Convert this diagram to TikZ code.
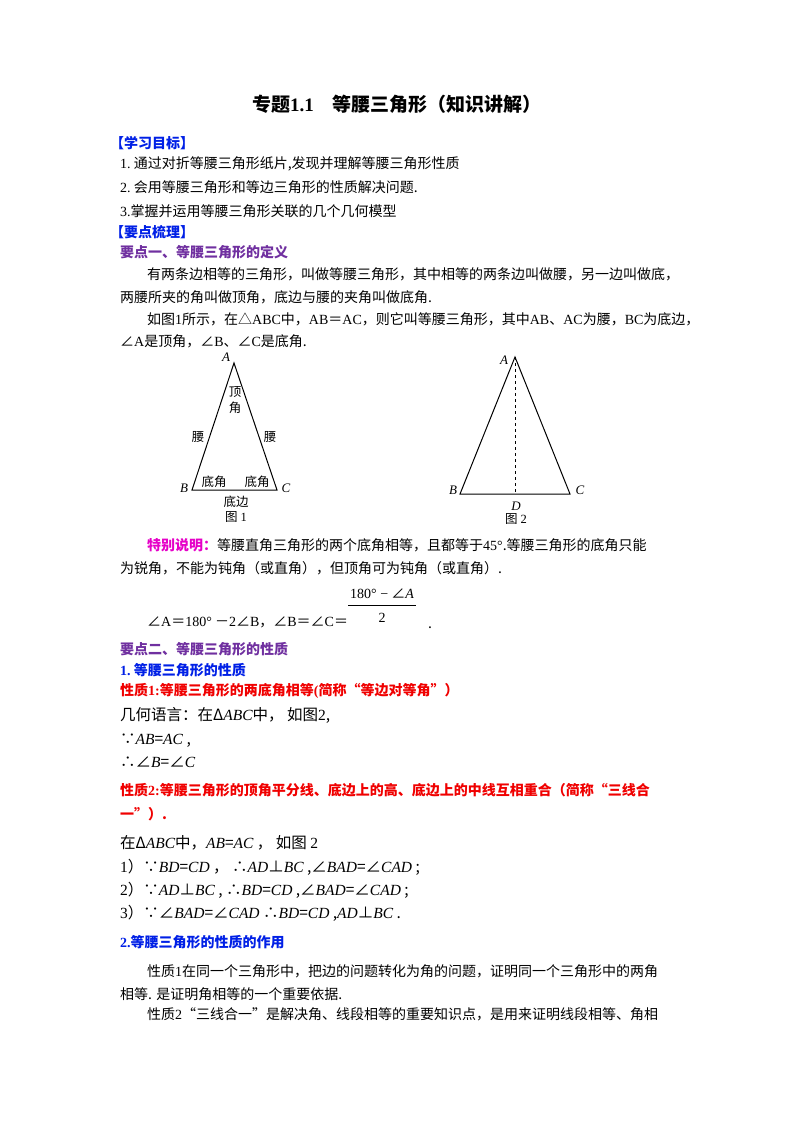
\documentclass[tikz,border=0pt]{standalone}
\usepackage{fontspec}
\setmainfont{Noto Sans CJK SC}
\newfontfamily\lat{Liberation Serif}
\definecolor{kblue}{RGB}{0,32,230}
\definecolor{kpurp}{RGB}{112,48,160}
\definecolor{kred}{RGB}{240,0,0}
\definecolor{kmag}{RGB}{230,0,200}
\tikzset{t/.style={anchor=base west,inner sep=0pt,font=\fontsize{14}{16}\selectfont},
 h/.style={t,font=\fontsize{14}{16}\selectfont\bfseries},
 big/.style={anchor=base west,inner sep=0pt,font=\fontsize{15.5}{18}\selectfont},
 lab/.style={inner sep=0pt,font=\fontsize{12.5}{14}\selectfont},
 ll/.style={inner sep=0pt,font=\fontsize{13}{14}\lat\itshape}}
\begin{document}
\begin{tikzpicture}[x=1pt,y=-1pt]
\useasboundingbox[fill=white] (0,0) rectangle (800,1132);
\node[anchor=base,inner sep=0pt,font=\fontsize{19}{20}\selectfont\bfseries] (title) at (397,111) {专题{\lat 1.1}\quad 等腰三角形（知识讲解）};
\node[h,text=kblue] (g1) at (110,148) {【学习目标】};
\node[t] (l1) at (120,168) {{\lat 1.}\ 通过对折等腰三角形纸片,发现并理解等腰三角形性质};
\node[t] (l2) at (120,192) {{\lat 2.}\ 会用等腰三角形和等边三角形的性质解决问题.};
\node[t] (l3) at (120,216) {{\lat 3.}掌握并运用等腰三角形关联的几个几何模型};
\node[h,text=kblue] (g2) at (110,237) {【要点梳理】};
\node[h,text=kpurp] (k1) at (120,257) {要点一、等腰三角形的定义};
\node[t] (p1) at (147,279) {有两条边相等的三角形，叫做等腰三角形，其中相等的两条边叫做腰，另一边叫做底，};
\node[t] (p2) at (120,302) {两腰所夹的角叫做顶角，底边与腰的夹角叫做底角.};
\node[t] (p3) at (147,324) {如图{\lat 1}所示，在△{\lat ABC}中，{\lat AB}＝{\lat AC}，则它叫等腰三角形，其中{\lat AB}、{\lat AC}为腰，{\lat BC}为底边，};
\node[t] (p4) at (120,346) {∠{\lat A}是顶角，∠{\lat B}、∠{\lat C}是底角.};
% figure 1
\coordinate (A1) at (234,363); \coordinate (B1) at (192,490); \coordinate (C1) at (277,490);
\draw[line width=1pt] (A1) -- (B1) -- (C1) -- cycle;
\node[ll] (a1) at (226,357) {A};
\node[ll] (b1) at (184,488) {B};
\node[ll] (c1) at (286,488) {C};
\node[lab] (dj1) at (235,392) {顶};
\node[lab] (dj2) at (235,408) {角};
\node[lab] (y1) at (198,437) {腰};
\node[lab] (y2) at (270,437) {腰};
\node[lab] (dj3) at (214,482) {底角};
\node[lab] (dj4) at (257,482) {底角};
\node[lab] (db) at (236,502) {底边};
\node[lab] (f1) at (236,517) {图 {\lat 1}};
% figure 2
\coordinate (A2) at (515,357); \coordinate (B2) at (460,494); \coordinate (C2) at (570,494); \coordinate (D2) at (515,494);
\draw[line width=1pt] (A2) -- (B2) -- (C2) -- cycle;
\draw[dashed,line width=0.9pt] (A2) -- (D2);
\node[ll] (a2) at (504,360) {A};
\node[ll] (b2) at (453,490) {B};
\node[ll] (c2) at (580,490) {C};
\node[ll] (d2) at (516,506) {D};
\node[lab] (f2) at (516,519) {图 {\lat 2}};
\node[t] (s1) at (147,550) {\textcolor{kmag}{\bfseries 特别说明：}等腰直角三角形的两个底角相等，且都等于{\lat 45°}.等腰三角形的底角只能};
\node[t] (s2) at (120,573) {为锐角，不能为钝角（或直角），但顶角可为钝角（或直角）.};
\node[t] (e1) at (147,626) {∠{\lat A}＝{\lat 180°}\ －{\lat 2}∠{\lat B}，∠{\lat B}＝∠{\lat C}＝};
\node[anchor=base,inner sep=0pt,font=\fontsize{14}{16}\selectfont] (num) at (382,598) {{\lat 180° −} ∠{\lat\itshape A}};
\node[anchor=base,inner sep=0pt,font=\fontsize{14}{16}\lat] (den) at (382,622) {2};
\draw[line width=0.6pt] (348,605) -- (416,605);
\node[t] (dot) at (428,628) {.};
\node[h,text=kpurp] (k2) at (120,654) {要点二、等腰三角形的性质};
\node[h,text=kblue] (k3) at (120,675) {{\lat 1.}\ 等腰三角形的性质};
\node[h,text=kred] (x1) at (120,695) {性质{\lat 1:}等腰三角形的两底角相等{\lat (}简称“等边对等角”）};
\node[big] (g3) at (120,720) {几何语言：在Δ{\lat\itshape ABC}中， 如图{\lat 2},};
\node[big] (g4) at (120,744) {∵{\lat\itshape AB}={\lat\itshape AC} ,};
\node[big] (g5) at (120,767) {∴∠{\lat\itshape B}=∠{\lat\itshape C}};
\node[h,text=kred] (x2) at (120,795) {性质{\lat 2:}等腰三角形的顶角平分线、底边上的高、底边上的中线互相重合（简称“三线合};
\node[h,text=kred] (x3) at (120,819) {一”）.};
\node[big] (m1) at (120,848) {在Δ{\lat\itshape ABC}中，{\lat\itshape AB}={\lat\itshape AC} ， 如图 {\lat 2}};
\node[big] (m2) at (120,872) {{\lat 1}）∵{\lat\itshape BD}={\lat\itshape CD} ， ∴{\lat\itshape AD}⊥{\lat\itshape BC} ,∠{\lat\itshape BAD}=∠{\lat\itshape CAD} ;};
\node[big] (m3) at (120,895) {{\lat 2}）∵{\lat\itshape AD}⊥{\lat\itshape BC} , ∴{\lat\itshape BD}={\lat\itshape CD} ,∠{\lat\itshape BAD}=∠{\lat\itshape CAD} ;};
\node[big] (m4) at (120,918) {{\lat 3}）∵∠{\lat\itshape BAD}=∠{\lat\itshape CAD} ∴{\lat\itshape BD}={\lat\itshape CD} ,{\lat\itshape AD}⊥{\lat\itshape BC} .};
\node[h,text=kblue] (k4) at (120,947) {{\lat 2.}等腰三角形的性质的作用};
\node[t] (q1) at (147,976) {性质{\lat 1}在同一个三角形中，把边的问题转化为角的问题，证明同一个三角形中的两角};
\node[t] (q2) at (120,999) {相等. 是证明角相等的一个重要依据.};
\node[t] (q3) at (147,1019) {性质{\lat 2}“三线合一”是解决角、线段相等的重要知识点，是用来证明线段相等、角相};
\end{tikzpicture}
\end{document}
